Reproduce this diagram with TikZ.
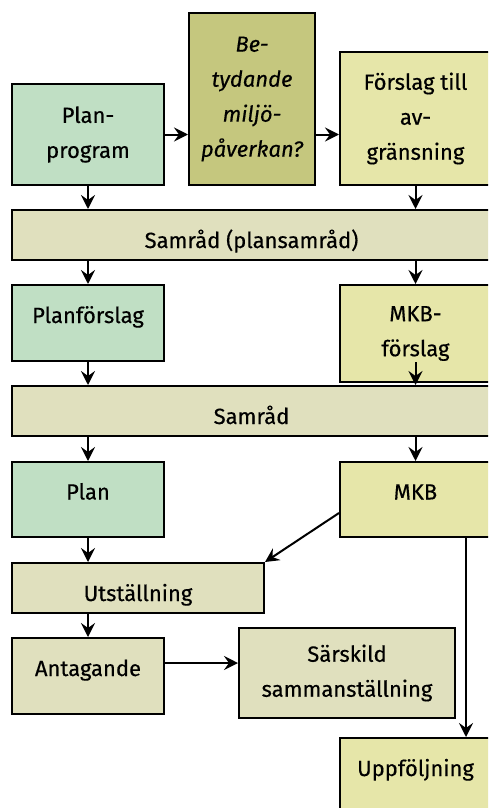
\documentclass[tikz,border=0pt]{standalone}
\usepackage{fontspec}
\setmainfont{Fira Sans}[FakeBold=0.4]
\usetikzlibrary{arrows.meta,calc}
\definecolor{cgreen}{HTML}{C0DFC4}
\definecolor{colive}{HTML}{C5C77E}
\definecolor{cyellow}{HTML}{E6E6A9}
\definecolor{cpale}{HTML}{E0E0BE}
\tikzset{
  box/.style={draw=black, line width=2pt, inner sep=0pt, align=center,
    font=\fontsize{22}{35}\selectfont},
  one/.style={text height=16pt, text depth=16pt},
  bar/.style={text height=28pt, text depth=2pt},
  arr/.style={line width=2pt, -{Stealth[length=14pt,width=14pt,inset=5pt]}},
}
\begin{document}
\begin{tikzpicture}[x=1pt,y=-1pt]
\useasboundingbox (0,0) rectangle (488,808);
\clip (0,0) rectangle (488,808);
% boxes
\node[box, fill=cgreen, minimum width=152pt, minimum height=101pt] (pp) at (88,134.5) {Plan-\\program};
\node[box, fill=colive, minimum width=126pt, minimum height=172pt, font=\fontsize{22}{35}\selectfont\itshape] (bet) at (252,99) {Be-\\tydande\\miljö-\\påverkan?};
\node[box, fill=cyellow, minimum width=151pt, minimum height=133pt] (fa) at (415.5,118.5) {Förslag till\\av-\\gränsning};
\node[box, bar, fill=cpale, minimum width=479pt, minimum height=50pt] (s1) at (251.5,235) {Samråd (plansamråd)};
\node[box, one, fill=cgreen, minimum width=152pt, minimum height=76pt] (pf) at (88,323) {Planförslag};
\node[box, fill=cyellow, minimum width=151pt, minimum height=97pt] (mf) at (415.5,333.5) {MKB-\\förslag};
\node[box, bar, fill=cpale, minimum width=479pt, minimum height=50pt] (s2) at (251.5,411) {Samråd};
\node[box, one, fill=cgreen, minimum width=152pt, minimum height=75pt] (plan) at (88,499.5) {Plan};
\node[box, one, fill=cyellow, minimum width=151pt, minimum height=75pt] (mkb) at (415.5,499.5) {MKB};
\node[box, bar, fill=cpale, minimum width=252pt, minimum height=50pt] (ut) at (138,588) {Utställning};
\node[box, one, fill=cpale, minimum width=152pt, minimum height=76pt] (ant) at (88,676) {Antagande};
\node[box, fill=cpale, minimum width=216pt, minimum height=90pt] (sar) at (347,673) {Särskild\\sammanställning};
\node[box, one, fill=cyellow, minimum width=151pt, minimum height=76pt] (upp) at (415.5,776) {Uppföljning};
% connectors
\draw[arr] (pp.east) -- (pp.east -| bet.west);
\draw[arr] (bet.east |- pp.east) -- (pp.east -| fa.west);
\draw[arr] (pp.south) -- (pp.south |- s1.north);
\draw[arr] (fa.south) -- (fa.south |- s1.north);
\draw[arr] (s1.south -| pf.north) -- (pf.north);
\draw[arr] (s1.south -| mf.north) -- (mf.north);
\draw[arr] (pf.south) -- (pf.south |- s2.north);
\draw[arr] (mf.south |- pf.south) -- (mf.south |- s2.north);
\draw[arr] (s2.south -| plan.north) -- (plan.north);
\draw[arr] (s2.south -| mkb.north) -- (mkb.north);
\draw[arr] (plan.south) -- (plan.south |- ut.north);
\draw[arr] ([yshift=-13.5pt]mkb.west) -- (ut.north east);
\coordinate (mkbr) at ([xshift=50.5pt]mkb.south);
\draw[arr] (mkbr) -- (mkbr |- upp.north);
\draw[arr] (ut.south -| ant.north) -- (ant.north);
\coordinate (antr) at ([yshift=13pt]ant.east);
\draw[arr] (antr) -- (antr -| sar.west);
\end{tikzpicture}
\end{document}
